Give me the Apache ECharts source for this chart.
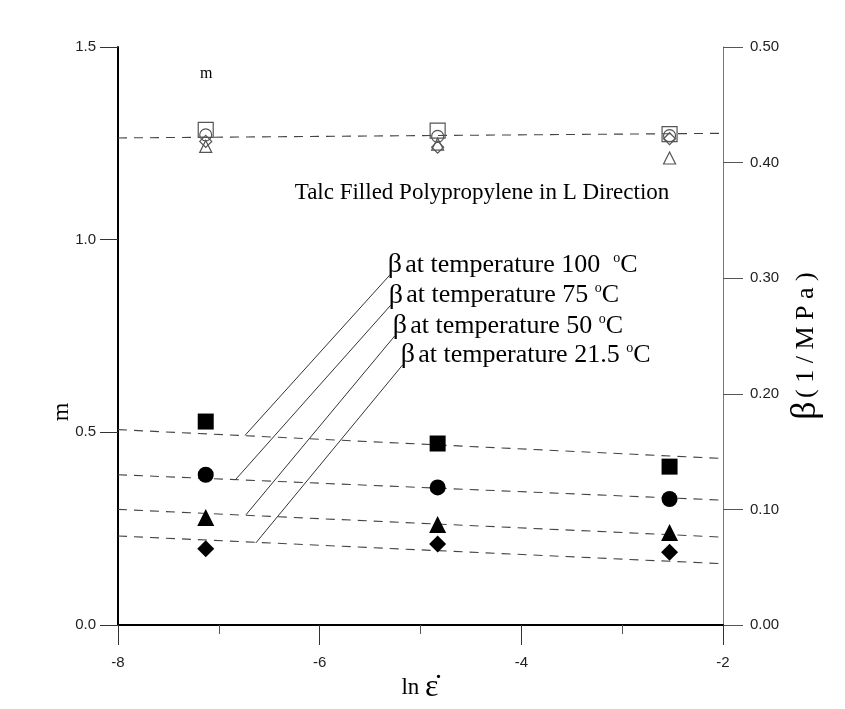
<!DOCTYPE html>
<html>
<head>
<meta charset="utf-8">
<script src="https://cdn.jsdelivr.net/npm/echarts@6/dist/echarts.min.js"></script>
<style>
  html, body { margin: 0; padding: 0; background: #fff; }
  #chart { width: 845px; height: 709px; }
</style>
</head>
<body>
<div id="chart"></div>
<script>
// ln of strain rate at which the tests were run
const lnRate = [-7.13, -4.83, -2.53];

// exponent m (left axis), open symbols, one array per temperature
const m100 = [1.285, 1.283, 1.274];
const m75 = [1.272, 1.268, 1.270];
const m50 = [1.242, 1.248, 1.212];
const m215 = [1.255, 1.240, 1.262];

// beta in 1/MPa (right axis), filled symbols
const beta100 = [0.176, 0.157, 0.137];
const beta75 = [0.130, 0.119, 0.109];
const beta50 = [0.093, 0.087, 0.080];
const beta215 = [0.066, 0.070, 0.063];

// dashed trend lines, evaluated at both ends of the x range
const fitX = [-8, -2];
const mFit = [1.264, 1.276];
const betaFit100 = [0.169, 0.144];
const betaFit75 = [0.130, 0.108];
const betaFit50 = [0.100, 0.076];
const betaFit215 = [0.077, 0.053];

// leader lines from each trend line up to its caption (x, m)
const leadX100 = [-6.741, -5.305];
const leadM100 = [0.492, 0.908];
const leadX75 = [-6.839, -5.295];
const leadM75 = [0.376, 0.830];
const leadX50 = [-6.731, -5.256];
const leadM50 = [0.286, 0.750];
const leadX215 = [-6.633, -5.177];
const leadM215 = [0.213, 0.675];

const tempText = ['100  ', '75 ', '50 ', '21.5 '];

// tick values
const xTicks = [-8, -6, -4, -2];
const mTicks = [0, 0.5, 1.0, 1.5];
const betaTicks = [0, 0.1, 0.2, 0.3, 0.4, 0.5];

const pairs = (xs, ys) => xs.map((x, i) => [x, ys[i]]);

const SERIF = '"Liberation Serif", "DejaVu Serif", serif';
const SANS = '"Liberation Sans", Arial, sans-serif';
const INK = '#000';

const openStyle = { color: 'rgba(0,0,0,0)', borderColor: '#555', borderWidth: 1.2, opacity: 1 };
const filledStyle = { color: INK, opacity: 1 };
const dash = { color: '#444', width: 1.1, type: [9, 7] };

function openSeries(sym, size, ys) {
  return { type: 'scatter', xAxisIndex: 0, yAxisIndex: 0, symbol: sym, symbolSize: size,
    itemStyle: openStyle, data: pairs(lnRate, ys), silent: true, z: 4 };
}
function filledSeries(sym, size, ys) {
  return { type: 'scatter', xAxisIndex: 0, yAxisIndex: 1, symbol: sym, symbolSize: size,
    itemStyle: filledStyle, data: pairs(lnRate, ys), silent: true, z: 5 };
}
function fitSeries(ys, axis) {
  return { type: 'line', xAxisIndex: 0, yAxisIndex: axis, symbol: 'none',
    lineStyle: dash, data: pairs(fitX, ys), silent: true, z: 3 };
}
function leaderSeries(xs, ys) {
  return { type: 'line', xAxisIndex: 0, yAxisIndex: 0, symbol: 'none',
    lineStyle: { color: '#333', width: 1 }, data: pairs(xs, ys), silent: true, z: 3 };
}

const captionPoints = [
  [leadX100[1], leadM100[1], tempText[0]],
  [leadX75[1], leadM75[1], tempText[1]],
  [leadX50[1], leadM50[1], tempText[2]],
  [leadX215[1], leadM215[1], tempText[3]]
];

const chart = echarts.init(document.getElementById('chart'), null, { renderer: 'canvas' });

chart.setOption({
  animation: false,
  backgroundColor: '#fff',
  grid: { left: 118, right: 122, top: 47, bottom: 84 },
  xAxis: {
    type: 'value', min: -8, max: -2, interval: 2,
    axisLine: { show: true, lineStyle: { color: INK, width: 2 } },
    axisTick: { show: true, inside: false, length: 20, lineStyle: { color: '#333', width: 1 },
      customValues: xTicks },
    minorTick: { show: true, splitNumber: 2, length: 9, lineStyle: { color: '#555', width: 1 } },
    axisLabel: { margin: 30, color: '#222', fontFamily: SANS, fontSize: 15, customValues: xTicks },
    splitLine: { show: false }
  },
  yAxis: [
    {
      type: 'value', min: 0, max: 1.5, interval: 0.5, position: 'left',
      axisLine: { show: true, onZero: false, lineStyle: { color: INK, width: 2 } },
      axisTick: { show: true, inside: false, length: 18, lineStyle: { color: '#333', width: 1 },
        customValues: mTicks },
      axisLabel: { margin: 22, color: '#222', fontFamily: SANS, fontSize: 15,
        customValues: mTicks, formatter: v => v.toFixed(1) },
      splitLine: { show: false }
    },
    {
      type: 'value', min: 0, max: 0.5, interval: 0.1, position: 'right',
      axisLine: { show: true, onZero: false, lineStyle: { color: '#777', width: 1 } },
      axisTick: { show: true, inside: false, length: 20, lineStyle: { color: '#555', width: 1 },
        customValues: betaTicks },
      axisLabel: { margin: 27, color: '#222', fontFamily: SANS, fontSize: 15,
        customValues: betaTicks, formatter: v => v.toFixed(2) },
      splitLine: { show: false }
    }
  ],
  series: [
    fitSeries(mFit, 0),
    fitSeries(betaFit100, 1),
    fitSeries(betaFit75, 1),
    fitSeries(betaFit50, 1),
    fitSeries(betaFit215, 1),
    openSeries('rect', 15, m100),
    openSeries('circle', 12, m75),
    openSeries('triangle', 12, m50),
    openSeries('diamond', 12, m215),
    filledSeries('rect', 16, beta100),
    filledSeries('circle', 16, beta75),
    filledSeries('triangle', 17, beta50),
    filledSeries('diamond', 17, beta215),
    leaderSeries(leadX100, leadM100),
    leaderSeries(leadX75, leadM75),
    leaderSeries(leadX50, leadM50),
    leaderSeries(leadX215, leadM215),
    {
      type: 'scatter', xAxisIndex: 0, yAxisIndex: 0, symbolSize: 0, silent: true, z: 6,
      itemStyle: { opacity: 1 },
      data: captionPoints,
      label: {
        show: true, position: 'right', distance: 0, offset: [-2, -10],
        formatter: p => '{b|β} {t|at temperature ' + p.value[2] + '}{o|o}{t|C}',
        rich: {
          b: { fontFamily: SERIF, fontSize: 28, color: INK, opacity: 1 },
          t: { fontFamily: SERIF, fontSize: 26, color: INK, opacity: 1 },
          o: { fontFamily: SERIF, fontSize: 14, color: INK, verticalAlign: 'top', padding: [0, 0, 14, 0] }
        }
      }
    }
  ],
  graphic: [
    { type: 'text', left: 200, top: 66,
      style: { text: 'm', font: '16px ' + SERIF, fill: INK } },
    { type: 'text', x: 482, y: 193,
      style: { text: 'Talc Filled Polypropylene in L Direction', font: '23px ' + SERIF,
        fill: INK, align: 'center', verticalAlign: 'middle' } },
    { type: 'text', x: 62, y: 412, rotation: Math.PI / 2,
      style: { text: 'm', font: '24px ' + SERIF, fill: INK, align: 'center', verticalAlign: 'middle' } },
    { type: 'text', x: 806, y: 346, rotation: Math.PI / 2,
      style: {
        text: '{b|β} {t|( 1 / M P a )}', align: 'center', verticalAlign: 'middle',
        rich: {
          b: { fontFamily: SERIF, fontSize: 36, fill: INK },
          t: { fontFamily: SERIF, fontSize: 26, fill: INK }
        }
      } },
    { type: 'text', x: 420, y: 688,
      style: {
        text: '{t|ln }{e|ε̇}', align: 'center', verticalAlign: 'middle',
        rich: {
          t: { fontFamily: SERIF, fontSize: 23, fill: INK },
          e: { fontFamily: SERIF, fontSize: 32, fill: INK }
        }
      } }
  ]
});
</script>
</body>
</html>
